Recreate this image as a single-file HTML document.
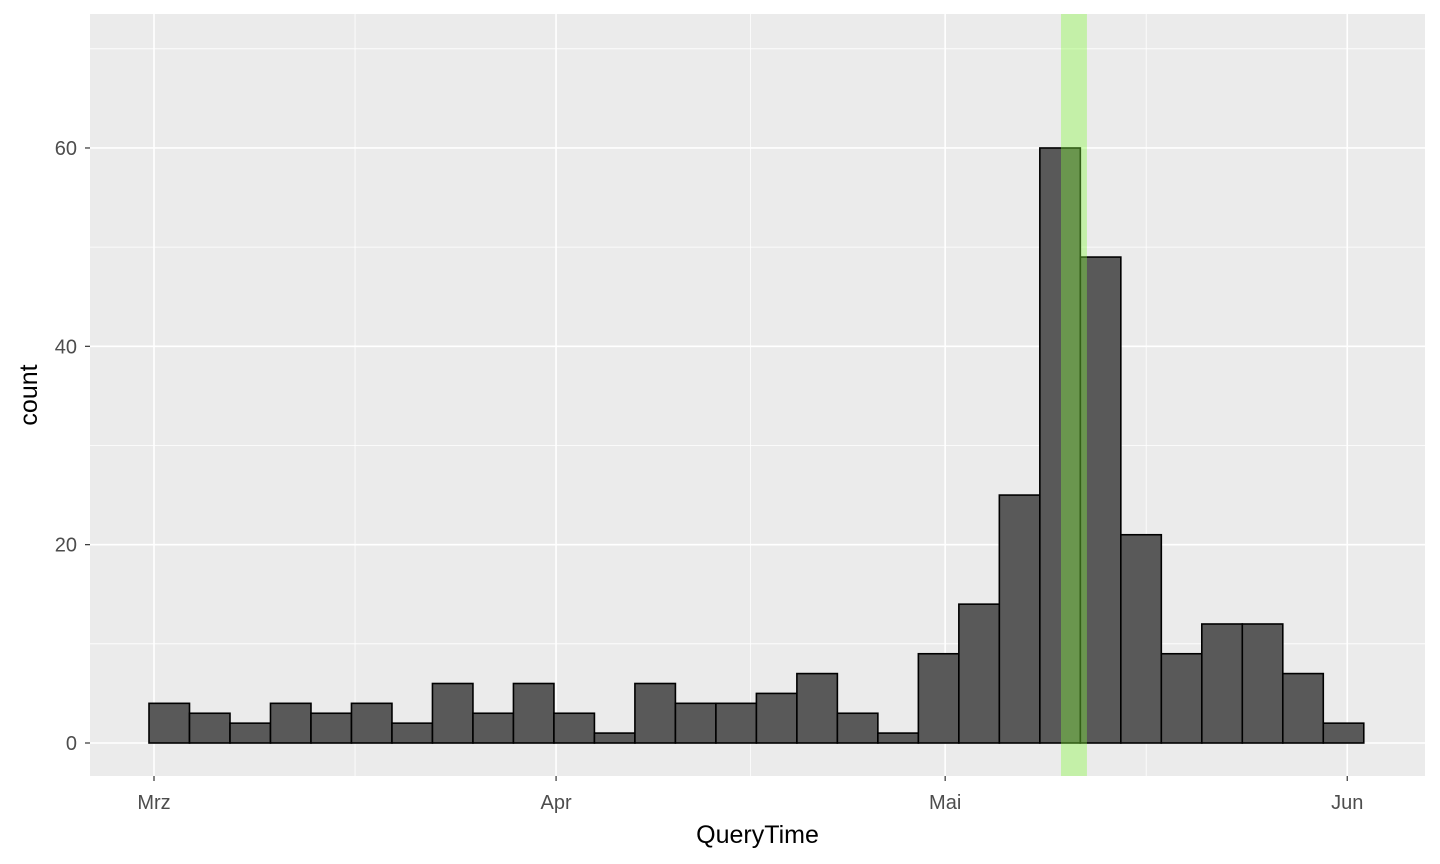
<!DOCTYPE html>
<html><head><meta charset="utf-8"><style>
body{margin:0;background:#fff;}
svg{display:block;font-family:"Liberation Sans",Arial,sans-serif;}
</style></head><body>
<svg id="chart" width="1440" height="864"></svg>
<script>
const counts=[4,3,2,4,3,4,2,6,3,6,3,1,6,4,4,5,7,3,1,9,14,25,60,49,21,9,12,12,7,2];
const binStartDay=-0.385;
const binWidthDays=3.122;
const yTicks=[0,20,40,60];
const yMinor=[10,30,50,70];
const xTickLabels=["Mrz","Apr","Mai","Jun"];
const xTickDays=[0,31,61,92];
const xMinorDays=[15.5,46,76.5];
const highlightStart=69.93, highlightEnd=71.93;

const NS="http://www.w3.org/2000/svg";
const svg=document.getElementById('chart');
const px0=90,px1=1425,py0=14,py1=776;
function X(d){return 154+d*12.97;}
function Y(v){return 743-v*9.917;}
function mk(tag,attrs,parent){const e=document.createElementNS(NS,tag);for(const k in attrs)e.setAttribute(k,attrs[k]);(parent||svg).appendChild(e);return e;}

const panel=mk('rect',{x:px0,y:py0,width:px1-px0,height:py1-py0,fill:'#ebebeb'});



yMinor.forEach(v=>{const l=mk('line',{x1:px0,x2:px1,y1:Y(v),y2:Y(v),stroke:'#fff','stroke-width':0.8});

});
xMinorDays.forEach(d=>{const l=mk('line',{x1:X(d),x2:X(d),y1:py0,y2:py1,stroke:'#fff','stroke-width':0.8});

});
yTicks.forEach(v=>{const l=mk('line',{x1:px0,x2:px1,y1:Y(v),y2:Y(v),stroke:'#fff','stroke-width':1.6});


mk('line',{x1:px0-5,x2:px0,y1:Y(v),y2:Y(v),stroke:'#333','stroke-width':1.2});
const t=mk('text',{x:px0-13,y:Y(v)+7,'text-anchor':'end','font-size':20,fill:'#4d4d4d'});t.textContent=v;

});
xTickDays.forEach((d,i)=>{const l=mk('line',{x1:X(d),x2:X(d),y1:py0,y2:py1,stroke:'#fff','stroke-width':1.6});


mk('line',{x1:X(d),x2:X(d),y1:py1,y2:py1+5,stroke:'#333','stroke-width':1.2});
const t=mk('text',{x:X(d),y:py1+33,'text-anchor':'middle','font-size':20,fill:'#4d4d4d'});t.textContent=xTickLabels[i];

});

counts.forEach((c,i)=>{const x0=X(binStartDay+i*binWidthDays),x1=X(binStartDay+(i+1)*binWidthDays);
const r=mk('rect',{x:x0,y:Y(c),width:x1-x0,height:Y(0)-Y(c),fill:'#595959',stroke:'#000','stroke-width':1.6});

});

const hl=mk('rect',{x:X(highlightStart),y:py0,width:X(highlightEnd)-X(highlightStart),height:py1-py0,fill:'rgb(135,250,60)','fill-opacity':0.38});



const xt=mk('text',{x:(px0+px1)/2,y:843,'text-anchor':'middle','font-size':25,fill:'#000'});xt.textContent='QueryTime';


const yt=mk('text',{x:0,y:0,'text-anchor':'middle','font-size':25,fill:'#000',transform:'translate(37,395) rotate(-90)'});yt.textContent='count';


</script>
</body></html>
